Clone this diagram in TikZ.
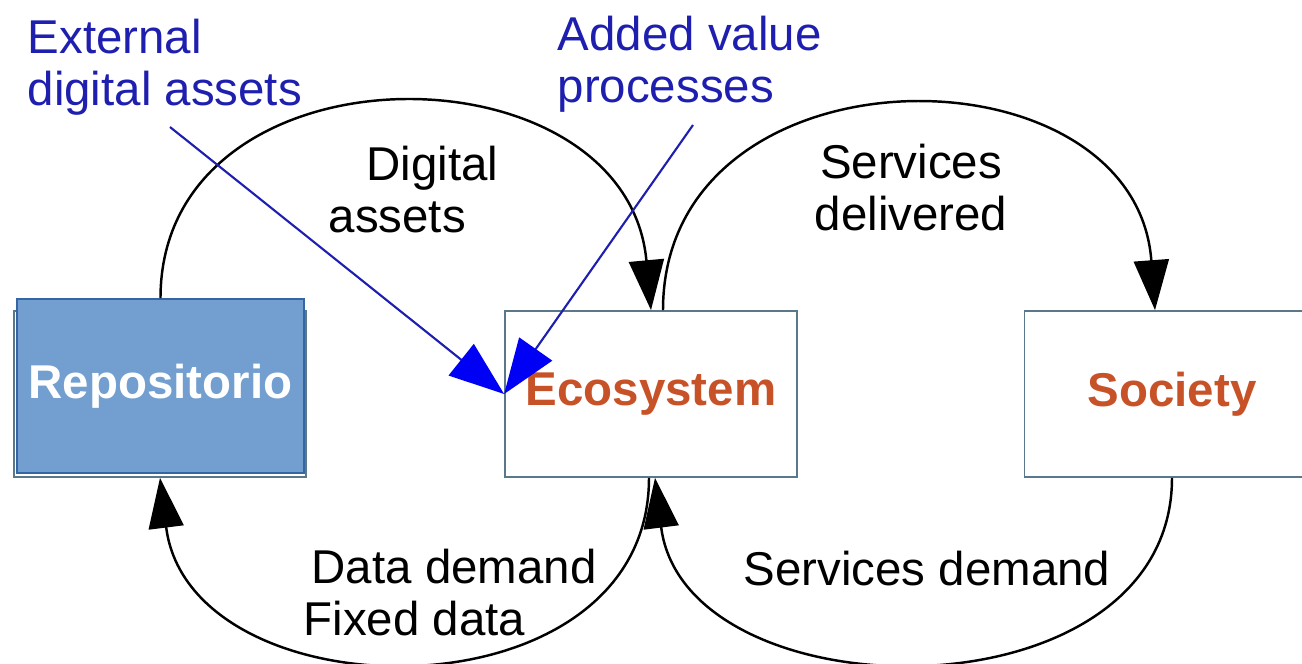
\documentclass[tikz,border=0pt]{standalone}
\usepackage{fontspec}
\setmainfont{Liberation Sans}
\usetikzlibrary{positioning,arrows.meta}
\definecolor{repofill}{RGB}{114,159,207}
\definecolor{repoline}{RGB}{52,101,164}
\definecolor{boxline}{RGB}{90,120,140}
\definecolor{ecotext}{RGB}{200,82,40}
\definecolor{linkblue}{RGB}{30,30,175}
\definecolor{tipblue}{RGB}{0,0,245}
\newcommand\diagfont{\fontsize{13.5}{14.8}\selectfont}

\begin{document}
\begin{tikzpicture}[font=\diagfont,
    box/.style={draw=boxline,line width=0.5pt,fill=white,minimum width=2.92cm,minimum height=1.66cm,inner sep=0pt},
    flow/.style={line width=0.7pt,-{Triangle[length=5mm,width=3.5mm]}},
    link/.style={linkblue,line width=0.6pt,-{Triangle[length=5.5mm,width=4mm,color=tipblue]}},
    lbl/.style={inner sep=0pt,align=left}]
    \useasboundingbox (0,0) rectangle (13.02,-6.63);
    % cajas
    \node[box] (repoframe) at (1.60,-3.94) {};
    \node[box,fill=repofill,draw=repoline,minimum width=2.87cm,minimum height=1.74cm,text=white,font=\diagfont\bfseries] (repo) at (1.605,-3.86) {Repositorio};
    \node[box,text=ecotext,font=\diagfont\bfseries] (eco) at (6.51,-3.94) {Ecosystem};
    \node[box,minimum width=2.95cm,text=ecotext,font=\diagfont\bfseries] (soc) at (11.72,-3.94) {Society};
    % textos
    \node[lbl,text=linkblue,anchor=north west] (ext) at (0.27,-0.18) {External\\digital assets};
    \node[lbl,text=linkblue,anchor=north west] (addv) at (5.57,-0.15) {Added value\\processes};
    \node[lbl,anchor=north west] (dig) at (3.28,-1.45) {\hspace*{0.38cm}Digital\\assets};
    \node[lbl,align=center,anchor=north] (srvd) at (9.11,-1.43) {Services\\delivered};
    \node[lbl,anchor=north west] (dd) at (3.03,-5.48) {\hspace*{0.08cm}Data demand\\Fixed data};
    \node[lbl,anchor=north west] (sdem) at (7.43,-5.50) {Services demand};
    % ciclos
    \draw[flow] (repo.north) .. controls +(0,2.6) and +(-0.25,2.7) .. (eco.north);
    \draw[flow] ([xshift=1.2mm]eco.north) .. controls +(0,2.7) and +(-0.2,2.7) .. ([xshift=-1.7mm]soc.north);
    \draw[flow] (soc.south) .. controls +(0,-2.45) and +(0.3,-2.4) .. ([xshift=0.4mm]eco.south);
    \draw[flow] ([xshift=-0.2mm]eco.south) .. controls +(0,-2.45) and +(0.3,-2.4) .. (repoframe.south);
    % flechas azules
    \coordinate (extfoot) at (1.70,-1.27);
    \coordinate (addfoot) at (6.93,-1.25);
    \draw[link] (extfoot) -- (eco.west);
    \draw[link] (addfoot) -- (eco.west);
\end{tikzpicture}
\end{document}
